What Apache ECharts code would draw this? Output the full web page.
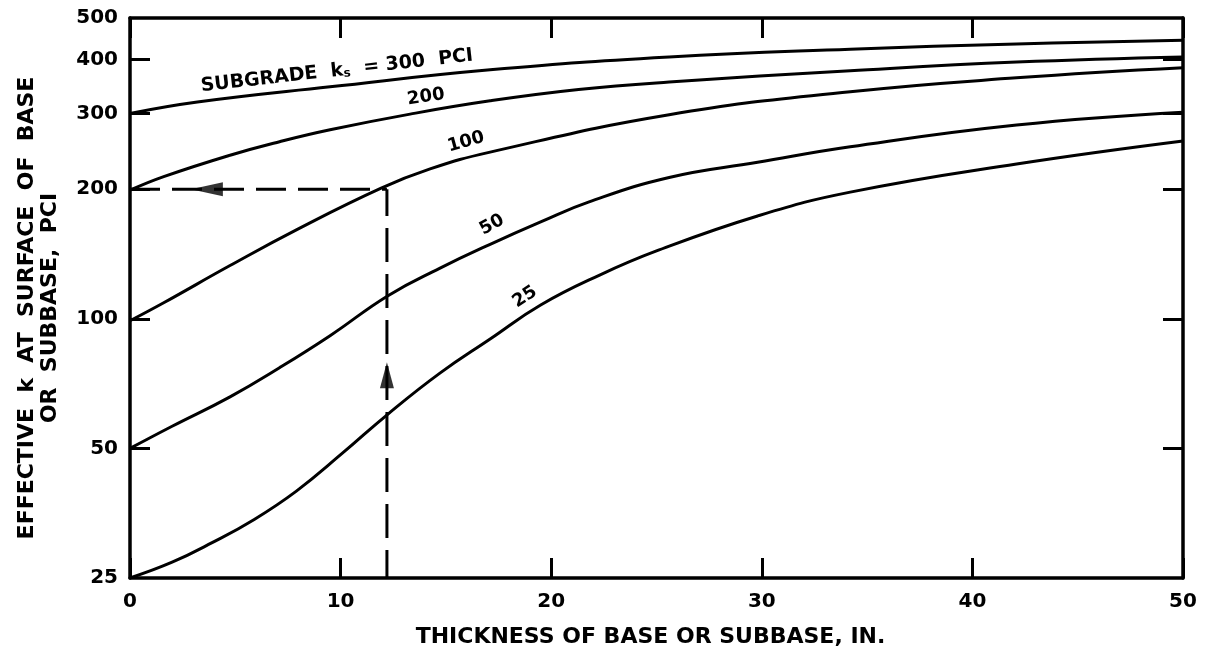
<!DOCTYPE html>
<html><head><meta charset="utf-8">
<script src="https://cdn.jsdelivr.net/npm/echarts@6/dist/echarts.min.js"></script>
<style>html,body{margin:0;padding:0;background:#fff}#c{width:1206px;height:653px}</style>
</head><body><div id="c"></div>
<script>
// ---- data ----
const xTickValues = [0, 10, 20, 30, 40, 50];
const yTickLabels = [25, 50, 100, 200, 300, 400, 500];
const yTickMarks = [50, 100, 200, 300, 400];
const curveNames = ['300', '200', '100', '50', '25'];
const k300 = [[0,300],[3.2,319],[9.5,346],[17.1,379],[25.6,406],[34.2,423],[42.1,435],[50,444]];
const k200 = [[0,199],[1.6,214],[4.75,240],[7.1,258],[9.5,275],[13.3,299],[17.1,321],[21.3,341],[25.6,355],[34.2,377],[42.1,395],[50,406]];
const k100 = [[0,99],[1.6,109],[4.75,133],[7.9,161],[11.9,201],[14.25,223],[17.1,244],[25.6,298],[34.2,337],[42.1,363],[50,383]];
const k50  = [[0,50],[2,56.3],[4.75,65.9],[7.1,77],[9.5,91.4],[12.25,113.2],[14.7,131],[17.1,149],[19.5,168],[21.8,187],[25.6,213],[29.8,231],[34.2,251],[42.1,282],[50,302]];
const k25  = [[0,25],[2,27.2],[3.9,30.2],[5.9,34.2],[7.9,39.8],[10.1,48.8],[12.25,60.1],[14.7,74.7],[17.1,89.8],[19.5,107.7],[22.3,126.4],[25,143.8],[29.8,173.4],[34.2,197],[42.1,229],[50,259]];
const guideH = [[0,200],[12.2,200]];
const guideV = [[12.2,25],[12.2,200]];
const arrowLeft = [[3.65,200]];
const arrowUp = [[12.2,74]];

const FONT = 'DejaVu Sans';
const chart = echarts.init(document.getElementById('c'));
const axisLine = {show:true, onZero:false, lineStyle:{color:'#000', width:3.5}};
const tick = {show:true, inside:true, length:20, lineStyle:{color:'#000', width:3}};
const lbl = {color:'#000', fontFamily:FONT, fontWeight:'bold', fontSize:20};

function curve(name, data){
  return {name, type:'line', data, symbol:'none', smooth:0.45,
    lineStyle:{color:'#000', width:3}, silent:true, z:3};
}

chart.setOption({
  animation:false,
  backgroundColor:'#fff',
  grid:{left:130, top:18, width:1053, height:560, containLabel:false, outerBoundsMode:'none'},
  xAxis:[
    {type:'value', position:'bottom', min:0, max:50, interval:10,
     axisLine, axisTick:tick, splitLine:{show:false},
     axisLabel:Object.assign({margin:14, customValues:xTickValues}, lbl),
     name:'THICKNESS OF BASE OR SUBBASE, IN.', nameLocation:'middle', nameGap:48,
     nameTextStyle:Object.assign({}, lbl, {fontSize:22, padding:[0,12,0,0]})},
    {type:'value', position:'top', min:0, max:50, interval:10,
     axisLine, axisTick:tick, splitLine:{show:false}, axisLabel:{show:false}}
  ],
  yAxis:[
    {type:'log', logBase:10, min:25, max:500, position:'left',
     axisLine, axisTick:Object.assign({customValues:yTickMarks}, tick),
     minorTick:{show:false}, splitLine:{show:false},
     axisLabel:Object.assign({margin:12, customValues:yTickLabels}, lbl)},
    {type:'log', logBase:10, min:25, max:500, position:'right',
     axisLine, axisTick:Object.assign({customValues:yTickMarks}, tick),
     minorTick:{show:false}, splitLine:{show:false}, axisLabel:{show:false}}
  ],
  series:[
    curve(curveNames[0], k300),
    curve(curveNames[1], k200),
    curve(curveNames[2], k100),
    curve(curveNames[3], k50),
    curve(curveNames[4], k25),
    {type:'line', data:guideH, symbol:'none', lineStyle:{color:'#000', width:3, type:[30,12]}, z:2},
    {type:'line', data:guideV, symbol:'none', lineStyle:{color:'#000', width:3, type:[34,12], dashOffset:6}, z:2},
    {type:'scatter', data:arrowLeft, symbol:'triangle', symbolSize:[14,32], symbolRotate:90,
     itemStyle:{color:'#000'}, z:4},
    {type:'scatter', data:arrowUp, symbol:'triangle', symbolSize:[14,26],
     itemStyle:{color:'#000'}, z:4}
  ],
  graphic:[
    {type:'text', x:39, y:308, rotation:Math.PI/2,
     style:{text:'EFFECTIVE  k  AT  SURFACE  OF  BASE\nOR  SUBBASE,  PCI', fill:'#000',
            fontFamily:FONT, fontWeight:'bold', fontSize:22, lineHeight:23,
            align:'center', verticalAlign:'middle'}},
    {type:'text', x:337, y:71, rotation:0.113,
     style:{text:'SUBGRADE  k{s|s}  = 300  PCI', fill:'#000', fontFamily:FONT, fontWeight:'bold', fontSize:19,
            align:'center', verticalAlign:'middle',
            rich:{s:{fontFamily:FONT, fontWeight:'bold', fontSize:12, verticalAlign:'bottom', fill:'#000'}}}},
    {type:'text', x:426, y:97, rotation:0.15,
     style:{text:'200', fill:'#000', fontFamily:FONT, fontWeight:'bold', fontSize:18, align:'center', verticalAlign:'middle'}},
    {type:'text', x:466, y:142, rotation:0.27,
     style:{text:'100', fill:'#000', fontFamily:FONT, fontWeight:'bold', fontSize:18, align:'center', verticalAlign:'middle'}},
    {type:'text', x:492, y:225, rotation:0.5,
     style:{text:'50', fill:'#000', fontFamily:FONT, fontWeight:'bold', fontSize:18, align:'center', verticalAlign:'middle'}},
    {type:'text', x:525, y:297, rotation:0.58,
     style:{text:'25', fill:'#000', fontFamily:FONT, fontWeight:'bold', fontSize:18, align:'center', verticalAlign:'middle'}}
  ]
});
</script></body></html>
